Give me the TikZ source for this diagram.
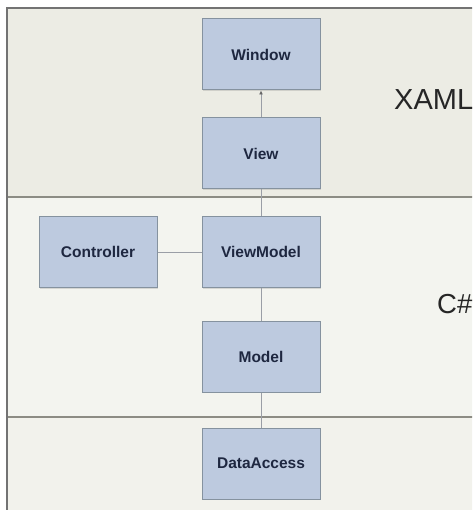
\documentclass[tikz,border=0pt]{standalone}
\usepackage{fontspec}
\setmainfont{Liberation Sans}
\usetikzlibrary{arrows.meta,shadows}
\definecolor{bandtop}{HTML}{ECECE4}
\definecolor{bandmid}{HTML}{F3F4EF}
\definecolor{bandbot}{HTML}{F2F2EC}
\definecolor{boxfill}{HTML}{BDCADF}
\definecolor{boxline}{HTML}{85929F}
\definecolor{boxtext}{HTML}{1E2740}
\definecolor{sepline}{HTML}{8C8C84}
\definecolor{conline}{HTML}{9A9EA6}
\tikzset{
  layerbox/.style={draw=boxline, line width=1pt, fill=boxfill,
    minimum width=118pt, minimum height=71pt, inner sep=0pt,
    font=\fontsize{15.5}{18}\selectfont\bfseries, text=boxtext,
    drop shadow={shadow xshift=1.2pt, shadow yshift=-1.2pt, opacity=0.25, fill=gray}},
  conn/.style={draw=conline, line width=0.9pt},
  layerlabel/.style={anchor=base west, inner sep=0pt, text=black!85,
    font=\fontsize{29}{33}\selectfont}
}
\begin{document}
\begin{tikzpicture}[x=1pt,y=-1pt]
\useasboundingbox (0,0) rectangle (472,510);
\fill[white] (0,0) rectangle (472,510);
\begin{scope}
\clip (0,0) rectangle (472,510);
\fill[bandtop] (7,8) rectangle (480,197);
\fill[bandmid] (7,197) rectangle (480,417);
\fill[bandbot] (7,417) rectangle (480,520);
\draw[sepline, line width=1.2pt] (7,197) -- (480,197);
\draw[sepline, line width=1.2pt] (7,417) -- (480,417);
\draw[black!55, line width=1.5pt] (7,520) -- (7,8) -- (480,8);
\node[layerlabel] (xaml) at (394,110) {XAML};
\node[layerlabel, font=\fontsize{27.5}{31}\selectfont] (cs) at (437,313) {C\#};
\end{scope}
\node[layerbox] (window) at (261,54.5) {Window};
\node[layerbox] (view) at (261,153.5) {View};
\node[layerbox] (controller) at (98,252) {Controller};
\node[layerbox] (viewmodel) at (261,252) {ViewModel};
\node[layerbox] (model) at (261,356.5) {Model};
\node[layerbox] (dataaccess) at (261,463.5) {DataAccess};
\draw[conn, -{Latex[length=4pt,width=4pt,color=black!60]}] (view) -- (window);
\draw[conn] (view) -- (viewmodel);
\draw[conn] (controller) -- (viewmodel);
\draw[conn] (viewmodel) -- (model);
\draw[conn] (model) -- (dataaccess);
\end{tikzpicture}
\end{document}
